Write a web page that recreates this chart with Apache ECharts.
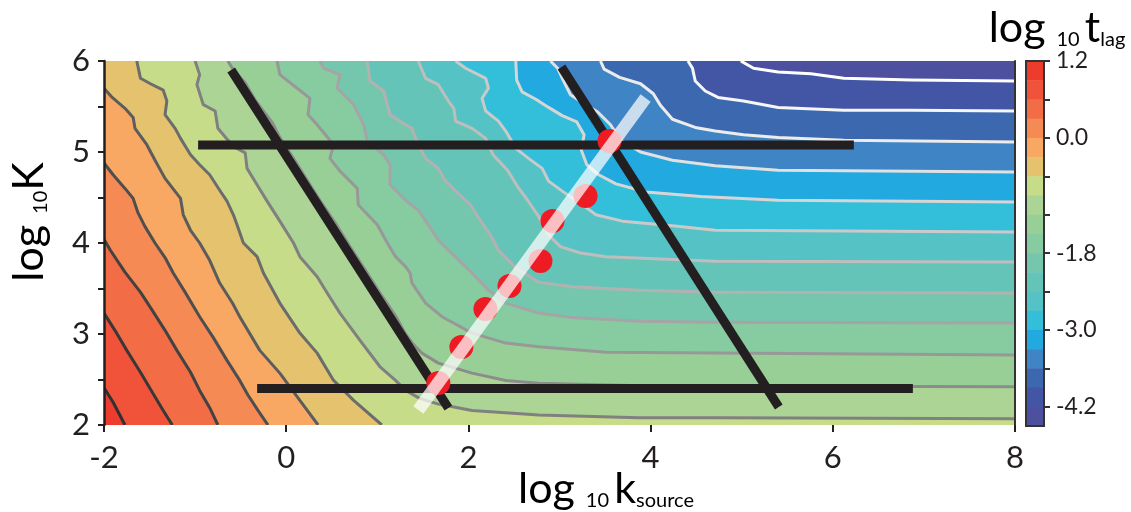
<!DOCTYPE html>
<html>
<head>
<meta charset="utf-8">
<title>log10 t_lag map</title>
<script src="https://cdn.jsdelivr.net/npm/echarts@6/dist/echarts.min.js"></script>
<style>
html, body { margin: 0; padding: 0; background: #ffffff; }
#chart { width: 1131px; height: 512px; }
</style>
</head>
<body>
<div id="chart"></div>
<script>
// ---- axis ticks and labels ----
const xTickValues = [-2, 0, 2, 4, 6, 8];
const xTickLabels = ['-2', '0', '2', '4', '6', '8'];
const yLabelValues = [2, 3, 4, 5, 6];
const yTickLabels = ['2', '3', '4', '5', '6'];
const cbTickValues = [1.2, 0.6, 0, -0.6, -1.2, -1.8, -2.4, -3.0, -3.6, -4.2];
const cbLabelValues = [1.2, 0, -1.8, -3.0, -4.2];
const cbTickLabels = ['1.2', '0.0', '-1.8', '-3.0', '-4.2'];

// ---- colour bands of log10 t_lag, from 1.2 down to -4.5 ----
const bandEdges = [1.2, 0.9, 0.6, 0.3, 0.0, -0.3, -0.6, -0.9, -1.2, -1.5, -1.8, -2.1, -2.4, -2.7, -3.0, -3.3, -3.6, -3.9, -4.2, -4.5];

// ---- contour levels and their paths [log10 k_source, log10 K] ----
const levels = [0.9, 0.6, 0.3, 0.0, -0.3, -0.6, -0.9, -1.2, -1.5, -1.8, -2.1, -2.4, -2.7, -3.0, -3.3, -3.6, -3.9, -4.2];

const cP09 = [[-2,2.41],[-1.9,2.25],[-1.77,2]];
const cP06 = [[-2,3.23],[-1.88,3.04],[-1.75,2.82],[-1.6,2.58],[-1.47,2.36],[-1.35,2.16],[-1.25,2]];
const cP03 = [[-2,4.04],[-1.93,3.92],[-1.77,3.68],[-1.6,3.46],[-1.47,3.26],[-1.33,3.04],[-1.2,2.82],[-1.05,2.58],[-0.95,2.38],[-0.84,2.19],[-0.75,2]];
const cZ00 = [[-2,4.88],[-1.9,4.75],[-1.77,4.6],[-1.68,4.49],[-1.63,4.34],[-1.55,4.18],[-1.44,4],[-1.33,3.84],[-1.24,3.67],[-1.11,3.46],[-0.95,3.19],[-0.8,2.96],[-0.65,2.71],[-0.51,2.49],[-0.42,2.33],[-0.31,2.16],[-0.2,2]];
const cM03 = [[-2,5.7],[-1.91,5.6],[-1.77,5.48],[-1.68,5.38],[-1.66,5.26],[-1.53,5.08],[-1.44,4.91],[-1.33,4.71],[-1.16,4.49],[-1.13,4.31],[-1.05,4.14],[-0.95,4],[-0.84,3.81],[-0.73,3.56],[-0.59,3.34],[-0.51,3.19],[-0.29,2.82],[-0.07,2.57],[0.15,2.27],[0.35,2]];
const cM06 = [[-1.64,6],[-1.6,5.81],[-1.49,5.75],[-1.35,5.68],[-1.31,5.56],[-1.33,5.41],[-1.22,5.26],[-1.16,5.15],[-1.05,4.97],[-0.95,4.86],[-0.84,4.75],[-0.73,4.58],[-0.65,4.46],[-0.58,4.31],[-0.54,4.2],[-0.47,4],[-0.32,3.85],[-0.25,3.67],[-0.07,3.34],[0.15,3.01],[0.34,2.79],[0.52,2.49],[0.74,2.27],[1.05,2]];
const cM09 = [[-1,6],[-0.95,5.85],[-0.98,5.74],[-0.91,5.52],[-0.78,5.45],[-0.75,5.26],[-0.64,5.13],[-0.56,5.05],[-0.45,4.99],[-0.43,4.82],[-0.32,4.64],[-0.21,4.46],[-0.07,4.24],[0.08,4],[0.15,3.85],[0.34,3.63],[0.45,3.45],[0.59,3.23],[0.81,2.93],[1.03,2.64],[1.2,2.49],[1.31,2.38],[1.47,2.29],[1.67,2.23],[2.04,2.16],[2.77,2.11],[3.87,2.08],[4.71,2.08],[8,2.07]];
const cM12 = [[-0.64,6],[-0.58,5.9],[-0.45,5.76],[-0.34,5.57],[-0.15,5.32],[-0.07,5.16],[0.08,4.93],[0.23,4.69],[0.37,4.47],[0.54,4.22],[0.7,3.96],[0.87,3.7],[1.03,3.45],[1.2,3.2],[1.31,3],[1.4,2.88],[1.49,2.79],[1.67,2.68],[2.04,2.57],[2.41,2.49],[2.77,2.46],[3.89,2.43],[8,2.42]];
const cM15 = [[-0.1,6],[-0.07,5.85],[0.12,5.7],[0.26,5.59],[0.24,5.41],[0.34,5.3],[0.52,5.08],[0.48,4.93],[0.59,4.79],[0.78,4.6],[0.79,4.42],[1,4.2],[1.11,4],[1.2,3.85],[1.31,3.74],[1.36,3.67],[1.38,3.56],[1.53,3.34],[1.71,3.19],[2.04,3.01],[2.41,2.9],[2.77,2.86],[3.51,2.8],[4.71,2.79],[8,2.77]];
const cM18 = [[0.37,6],[0.41,5.92],[0.59,5.85],[0.56,5.7],[0.74,5.52],[0.85,5.3],[0.89,5.12],[1.07,4.97],[1.14,4.86],[1.14,4.64],[1.31,4.47],[1.45,4.36],[1.56,4.2],[1.67,4.03],[1.78,3.92],[2.04,3.67],[2.22,3.48],[2.41,3.34],[2.77,3.23],[3.14,3.18],[3.87,3.14],[4.71,3.13],[8,3.12]];
const cM21 = [[0.89,6],[0.92,5.78],[1.07,5.67],[1.14,5.41],[1.31,5.3],[1.38,5.26],[1.45,5.08],[1.53,4.93],[1.67,4.82],[1.75,4.68],[1.86,4.57],[2.02,4.42],[2.13,4.25],[2.24,4.09],[2.33,3.92],[2.52,3.73],[2.77,3.57],[3.14,3.52],[3.87,3.48],[4.71,3.46],[8,3.45]];
const cM24 = [[1.45,6],[1.53,5.81],[1.67,5.74],[1.78,5.56],[1.84,5.48],[1.86,5.34],[2.04,5.26],[2.19,5.15],[2.27,4.97],[2.43,4.8],[2.54,4.62],[2.65,4.47],[2.76,4.31],[2.88,4.09],[3.01,3.96],[3.23,3.89],[3.51,3.85],[4.71,3.8],[8,3.79]];
const cM27 = [[1.86,6],[1.97,5.92],[2.19,5.81],[2.22,5.7],[2.15,5.59],[2.19,5.45],[2.33,5.34],[2.41,5.23],[2.52,5.04],[2.66,4.93],[2.81,4.82],[2.88,4.68],[3.03,4.57],[3.25,4.42],[3.4,4.31],[3.69,4.24],[4.24,4.19],[4.71,4.14],[8,4.12]];
const cM30 = [[2.52,6],[2.53,5.79],[2.59,5.66],[2.74,5.58],[2.88,5.49],[3.03,5.4],[3.19,5.33],[3.27,5.19],[3.24,5.02],[3.3,4.86],[3.43,4.75],[3.62,4.65],[3.95,4.56],[4.55,4.51],[5.4,4.47],[8,4.45]];
const cM33 = [[2.9,6],[2.98,5.92],[3.04,5.79],[3.12,5.63],[3.29,5.52],[3.42,5.44],[3.56,5.3],[3.67,5.13],[3.89,5],[4.24,4.91],[4.71,4.85],[5.4,4.8],[8,4.78]];
const cM36 = [[3.45,6],[3.49,5.91],[3.66,5.82],[3.89,5.75],[4.03,5.64],[4.11,5.51],[4.24,5.36],[4.49,5.27],[4.71,5.23],[5.02,5.19],[5.4,5.16],[6.12,5.13],[8,5.11]];
const cM39 = [[4.41,6],[4.46,5.92],[4.49,5.78],[4.6,5.67],[4.74,5.6],[5.02,5.56],[5.4,5.49],[6.12,5.46],[6.86,5.46],[8,5.45]];
const cM42 = [[4.99,6],[5.13,5.92],[5.4,5.88],[5.76,5.86],[6.12,5.81],[6.86,5.79],[8,5.78]];

const contours = [cP09, cP06, cP03, cZ00, cM03, cM06, cM09, cM12, cM15, cM18, cM21, cM24, cM27, cM30, cM33, cM36, cM39, cM42];

// ---- guide lines, transect and sampled points ----
const guideLines = [
  [[-0.604, 5.901], [1.780, 2.187]],
  [[3.022, 5.934], [5.407, 2.198]],
  [[-0.967, 5.077], [6.231, 5.077]],
  [[-0.319, 2.401], [6.879, 2.401]]
];
const transect = [[1.451, 2.165], [3.945, 5.593]];
const samplePoints = [
  [1.670, 2.462], [1.923, 2.857], [2.187, 3.275], [2.451, 3.527],
  [2.791, 3.802], [2.923, 4.242], [3.286, 4.516], [3.549, 5.121]
];

// ---- styling ----
const bandColors = [
  '#ED3B2E', '#F0523A', '#F26C45', '#F58A55', '#F8A863', '#E5C36E', '#C7DC89',
  '#ABD495', '#98CF97', '#87CBA1', '#74C7AD', '#65C4B8', '#55C2C6', '#33BFDA',
  '#21A9E0', '#3F84C4', '#3C68B0', '#4356A6', '#4D4F9F'
];
const lineColors = [
  '#303030', '#383838', '#424242', '#4e4e4e', '#5c5c5c', '#6c6c6c', '#808080',
  '#8c8c8c', '#989898', '#a5a5a5', '#b2b2b2', '#bebebe', '#cacaca', '#d6d6d6',
  '#e1e1e1', '#ececec', '#f6f6f6', '#ffffff'
];
const ink = '#231f20';
const font = 'Lato, "Liberation Sans", sans-serif';

const X_MIN = -2, X_MAX = 8, Y_MIN = 2, Y_MAX = 6;

const chart = echarts.init(document.getElementById('chart'), null, { renderer: 'canvas' });

// filled bands: base rectangle, then each "below level" region painted in turn
const fillData = [[X_MIN, Y_MIN, -1]].concat(contours.map((c, i) => [c[0][0], c[0][1], i]));
const lineData = contours.map((c, i) => [c[0][0], c[0][1], i]);

function renderFill(params, api) {
  const k = api.value(2);
  let pts;
  if (k < 0) {
    pts = [[X_MIN, Y_MIN], [X_MAX, Y_MIN], [X_MAX, Y_MAX], [X_MIN, Y_MAX]];
  } else {
    const path = contours[k];
    pts = path.slice();
    const first = path[0], last = path[path.length - 1];
    if (last[1] <= Y_MIN + 1e-6) pts.push([X_MAX, Y_MIN]);
    pts.push([X_MAX, Y_MAX]);
    if (first[0] <= X_MIN + 1e-6) pts.push([X_MIN, Y_MAX]);
  }
  return {
    type: 'polygon',
    shape: { points: pts.map(p => api.coord(p)) },
    style: { fill: bandColors[k + 1], stroke: null }
  };
}

function renderContour(params, api) {
  const k = api.value(2);
  return {
    type: 'polyline',
    shape: { points: contours[k].map(p => api.coord(p)) },
    style: { fill: null, stroke: lineColors[k], lineWidth: 3, lineJoin: 'round' }
  };
}

const series = [];
series.push({
  type: 'custom', name: 'bands', xAxisIndex: 0, yAxisIndex: 0,
  data: fillData, renderItem: renderFill, clip: true, silent: true, z: 1,
  encode: { x: 0, y: 1 }
});
series.push({
  type: 'custom', name: 'contours', xAxisIndex: 0, yAxisIndex: 0,
  data: lineData, renderItem: renderContour, clip: true, silent: true, z: 2,
  encode: { x: 0, y: 1 }
});

guideLines.forEach((g, i) => {
  series.push({
    type: 'line', name: 'guide ' + i, xAxisIndex: 0, yAxisIndex: 0,
    data: g, symbol: 'none', silent: true, z: 3,
    lineStyle: { color: ink, width: 9, cap: 'butt' }
  });
});

series.push({
  type: 'scatter', name: 'samples', xAxisIndex: 0, yAxisIndex: 0,
  data: samplePoints, symbol: 'circle', symbolSize: 24, silent: true, z: 4,
  itemStyle: { color: '#ED1C24', opacity: 1 }
});

series.push({
  type: 'line', name: 'transect', xAxisIndex: 0, yAxisIndex: 0,
  data: transect, symbol: 'none', silent: true, z: 5,
  lineStyle: { color: 'rgba(255,255,255,0.72)', width: 12.5, cap: 'butt' }
});

// colour bar
series.push({
  type: 'custom', name: 'colorbar', xAxisIndex: 1, yAxisIndex: 2,
  data: bandColors.map((c, i) => [0.5, bandEdges[i], bandEdges[i + 1]]),
  encode: { x: 0, y: [1, 2] }, silent: true, z: 1,
  renderItem: function (params, api) {
    const p1 = api.coord([0, api.value(1)]);
    const p2 = api.coord([1, api.value(2)]);
    return {
      type: 'rect',
      shape: { x: p1[0], y: p1[1], width: p2[0] - p1[0], height: p2[1] - p1[1] + 0.5 },
      style: { fill: bandColors[params.dataIndex] }
    };
  }
});
series.push({
  type: 'custom', name: 'colorbar frame', xAxisIndex: 1, yAxisIndex: 2,
  data: [[0.5, bandEdges[0], bandEdges[bandEdges.length - 1]]],
  encode: { x: 0, y: [1, 2] }, silent: true, z: 2,
  renderItem: function (params, api) {
    const p1 = api.coord([0, api.value(1)]);
    const p2 = api.coord([1, api.value(2)]);
    return {
      type: 'rect',
      shape: { x: p1[0], y: p1[1], width: p2[0] - p1[0], height: p2[1] - p1[1] },
      style: { fill: null, stroke: '#333333', lineWidth: 2 }
    };
  }
});

function pick(values, labels) {
  return function (v) {
    const k = values.findIndex(u => Math.abs(u - v) < 1e-6);
    return k >= 0 ? labels[k] : '';
  };
}

const titleRich = {
  a: { fontFamily: font, fontSize: 43, lineHeight: 46, verticalAlign: 'bottom', color: ink },
  s: { fontFamily: font, fontSize: 20, lineHeight: 40, verticalAlign: 'bottom', color: ink }
};

const option = {
  animation: false,
  backgroundColor: '#ffffff',
  grid: [
    { left: 104, top: 61, width: 911, height: 364, containLabel: false },
    { left: 1026, top: 61, width: 18, height: 365, containLabel: false }
  ],
  xAxis: [
    {
      type: 'value', gridIndex: 0, min: X_MIN, max: X_MAX, interval: 2, z: 10,
      axisLine: { show: false, onZero: false },
      axisTick: { show: true, length: 7, lineStyle: { color: ink, width: 2 } },
      axisLabel: { formatter: pick(xTickValues, xTickLabels), fontFamily: font, fontSize: 31, color: ink, margin: 17 },
      splitLine: { show: false }
    },
    { type: 'value', gridIndex: 1, min: 0, max: 1, show: false }
  ],
  yAxis: [
    {
      type: 'value', gridIndex: 0, position: 'left', min: Y_MIN, max: Y_MAX, interval: 0.5, z: 10,
      axisLine: { show: true, onZero: false, lineStyle: { color: ink, width: 2.5 } },
      axisTick: { show: true, length: 6, lineStyle: { color: ink, width: 2 } },
      axisLabel: { formatter: pick(yLabelValues, yTickLabels), fontFamily: font, fontSize: 31, color: ink, margin: 14 },
      splitLine: { show: false }
    },
    {
      type: 'value', gridIndex: 0, position: 'right', min: Y_MIN, max: Y_MAX, interval: 1, z: 10,
      axisLine: { show: true, onZero: false, lineStyle: { color: '#333333', width: 2 } },
      axisTick: { show: false }, axisLabel: { show: false }, splitLine: { show: false }
    },
    {
      type: 'value', gridIndex: 1, position: 'right', min: -4.5, max: 1.2, z: 10,
      axisLine: { show: false, onZero: false },
      axisTick: { show: true, length: 6, customValues: cbTickValues, lineStyle: { color: '#333333', width: 2 } },
      axisLabel: {
        customValues: cbLabelValues, formatter: pick(cbLabelValues, cbTickLabels),
        fontFamily: font, fontSize: 23, color: ink, margin: 12
      },
      splitLine: { show: false }
    }
  ],
  graphic: [
    {
      type: 'text', x: 28, y: 222, rotation: Math.PI / 2, silent: true,
      style: { text: '{a|log }{s|10}{a|K}', rich: titleRich, align: 'center', verticalAlign: 'middle' }
    },
    {
      type: 'text', x: 606, y: 488, silent: true,
      style: { text: '{a|log }{s|10 }{a|k}{s|source}', rich: titleRich, align: 'center', verticalAlign: 'middle' }
    },
    {
      type: 'text', x: 1057, y: 27, silent: true,
      style: { text: '{a|log }{s|10 }{a|t}{s|lag}', rich: titleRich, align: 'center', verticalAlign: 'middle' }
    }
  ],
  series: series
};

chart.setOption(option);
</script>
</body>
</html>
